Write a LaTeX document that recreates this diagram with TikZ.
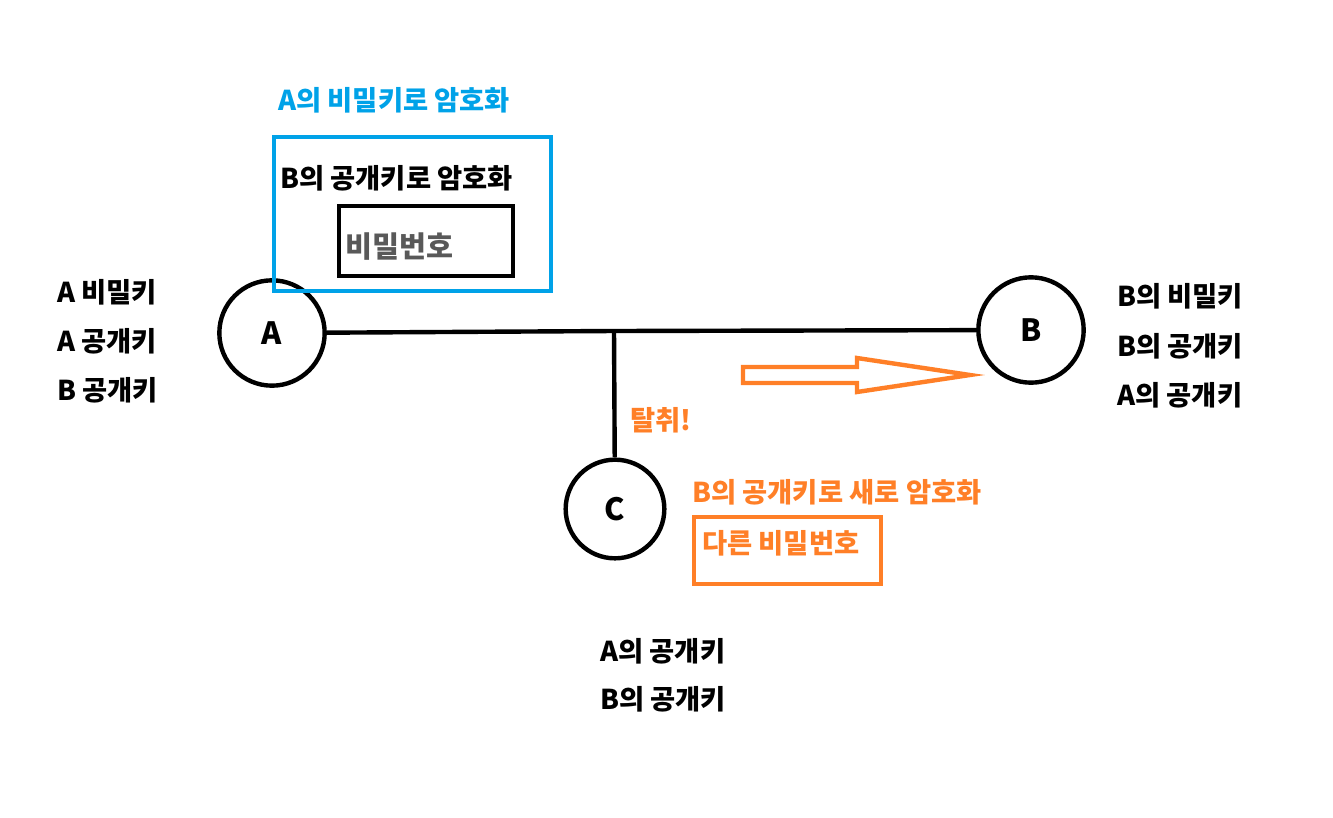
\documentclass[tikz,border=0pt]{standalone}
\usepackage{fontspec}
\setmainfont{Noto Sans CJK KR}[BoldFont=* Black]
\usetikzlibrary{positioning}
\definecolor{paintblue}{RGB}{0,162,232}
\definecolor{paintorange}{RGB}{255,127,39}
\tikzset{
	hoststyle/.style={circle,draw=black,line width=3.3pt,minimum size=79pt,inner sep=0pt,font=\bfseries\fontsize{23}{25}\selectfont},
	keystyle/.style={anchor=west,inner sep=0pt,font=\bfseries\fontsize{20.5}{22}\selectfont},
	boxstyle/.style={rectangle,line width=3.3pt,inner sep=0pt},
	linkstyle/.style={line width=3.3pt,draw=black}
}
\begin{document}
\begin{tikzpicture}[x=0.75pt,y=-0.75pt]
		\useasboundingbox (0,0) rectangle (1333,817);
		% hosts
		\node[hoststyle] (a) at (272,333) {A};
		\node[hoststyle] (b) at (1031,330) {B};
		\node[hoststyle,minimum size=74pt] (c) at (615,509) {C};
		\coordinate (j) at (614,331);
		\draw[linkstyle] (a)--(j);
		\draw[linkstyle] (j)--(b);
		\draw[linkstyle] (j)--(c);
		% keys
		\node[keystyle] (ka1) at (57,292) {A 비밀키};
		\node[keystyle] (ka2) at (57,341) {A 공개키};
		\node[keystyle] (ka3) at (57,390) {B 공개키};
		\node[keystyle] (kb1) at (1117,296) {B의 비밀키};
		\node[keystyle] (kb2) at (1117,346) {B의 공개키};
		\node[keystyle] (kb3) at (1117,395) {A의 공개키};
		\node[keystyle] (kc1) at (600,651) {A의 공개키};
		\node[keystyle] (kc2) at (600,699) {B의 공개키};
		% messages
		\node[boxstyle,draw=paintblue,minimum width=208pt,minimum height=115.5pt] (outer) at (412.5,214) {};
		\node[boxstyle,draw=black,minimum width=130.5pt,minimum height=52.5pt] (inner) at (426,241) {};
		\node[keystyle,text=paintblue] (outerlbl) at (278,100) {A의 비밀키로 암호화};
		\node[keystyle] (innerlbl) at (280,178) {B의 공개키로 암호화};
		\node[keystyle,text=black!65,font=\bfseries\fontsize{22}{24}\selectfont] (pw) at (345,247) {비밀번호};
		\node[keystyle,text=paintorange] (steal) at (630,420) {탈취!};
		\node[keystyle,text=paintorange] (newlbl) at (692,492) {B의 공개키로 새로 암호화};
		\node[boxstyle,draw=paintorange,minimum width=140pt,minimum height=50pt] (newbox) at (787.5,550.5) {};
		\node[keystyle,text=paintorange] (newpw) at (702,543) {다른 비밀번호};
		% arrow
		\draw[line width=3.3pt,draw=paintorange,line join=miter] (743,367) -- (857,367) -- (857,358) -- (970,375) -- (857,392) -- (857,383) -- (743,383) -- cycle;
\end{tikzpicture}
\end{document}
